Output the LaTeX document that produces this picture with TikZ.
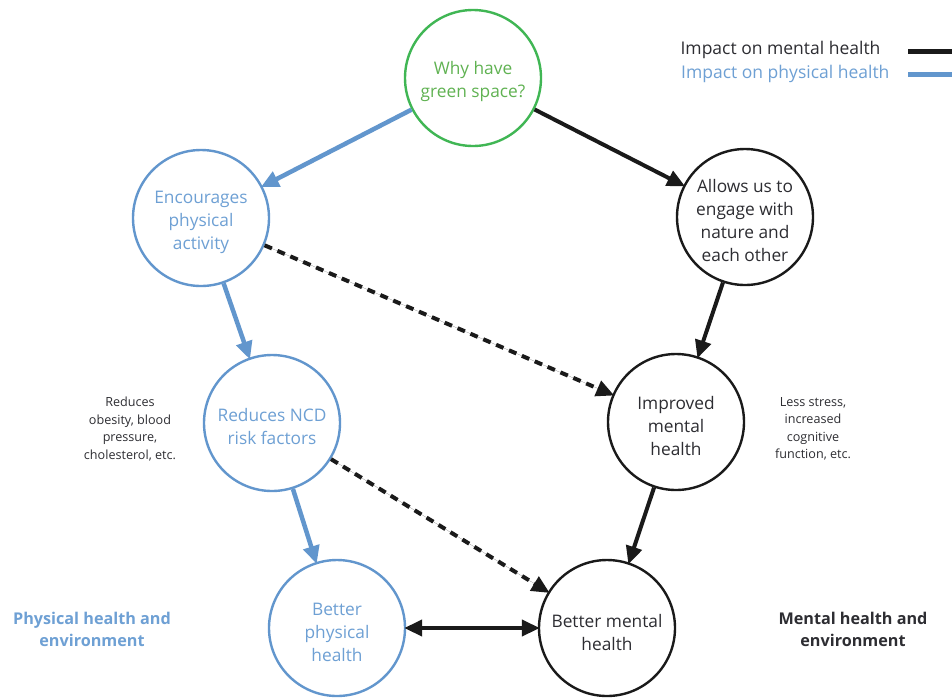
\documentclass[tikz,border=0pt]{standalone}
\usepackage{fontspec}
\setmainfont{Open Sans}
\usetikzlibrary{arrows.meta}
\definecolor{phyblue}{RGB}{98,150,205}
\definecolor{txtblue}{RGB}{110,160,212}
\definecolor{grn}{RGB}{64,182,84}
\definecolor{txtgrn}{RGB}{96,178,82}
\definecolor{blk}{RGB}{26,26,26}
\definecolor{txtgray}{RGB}{45,45,50}
\begin{document}
\begin{tikzpicture}[x=1pt,y=-1pt,
  circ/.style={circle,minimum size=136pt,inner sep=0pt,line width=2.4pt},
  ctext/.style={align=center,inner sep=0pt,yshift=-4pt,font=\fontsize{17.3}{23}\selectfont},
  physc/.style={circ,draw=phyblue},
  mentc/.style={circ,draw=blk},
  greenc/.style={circ,draw=grn},
  tip/.style={-{Triangle[length=18pt,width=16pt]}},
  parr/.style={tip,draw=phyblue,fill=phyblue,line width=4.5pt,shorten >=-2pt},
  marr/.style={tip,draw=blk,fill=blk,line width=4pt,shorten >=-2pt},
  darr/.style={marr,dash pattern=on 8pt off 6pt},
  note/.style={align=center,text=txtgray,font=\fontsize{12.6}{17.5}\selectfont},
  side/.style={align=center,font=\bfseries\fontsize{16.2}{22}\selectfont}
]
\useasboundingbox (0,0) rectangle (952,697);
\fill[white] (0,0) rectangle (952,697);

\node[greenc,label={[ctext,text=txtgrn]center:Why have\\green space?}] (why) at (473,78) {};
\node[physc,label={[ctext,text=txtblue]center:Encourages\\physical\\activity}] (enc) at (201,218) {};
\node[mentc,label={[ctext,text=txtgray]center:Allows us to\\engage with\\nature and\\each other}] (allow) at (745,217) {};
\node[physc,label={[ctext,text=txtblue]center:Reduces NCD\\risk factors}] (ncd) at (272,423) {};
\node[mentc,label={[ctext,text=txtgray]center:Improved\\mental\\health}] (impr) at (676,422) {};
\node[physc,label={[ctext,text=txtblue]center:Better\\physical\\health}] (bph) at (337,628) {};
\node[mentc,label={[ctext,text=txtgray]center:Better mental\\health}] (bmh) at (607,628) {};

\draw[parr] (why) -- (enc);
\draw[marr] (why) -- (allow);
\draw[parr] (enc) -- (ncd);
\draw[parr] (ncd) -- (bph);
\draw[marr] (allow) -- (impr);
\draw[marr] (impr) -- (bmh);
\draw[darr] (enc) -- (impr);
\draw[darr] (ncd) -- (bmh);
\draw[marr,{Triangle[length=18pt,width=16pt]}-{Triangle[length=18pt,width=16pt]},shorten <=-2pt] (bph) -- (bmh);

\node[note] (n1) at (130,429) {Reduces\\obesity, blood\\pressure,\\cholesterol, etc.};
\node[note] (n2) at (813,429) {Less stress,\\increased\\cognitive\\function, etc.};

\node[side,text=txtblue] (s1) at (92,629) {Physical health and\\environment};
\node[side,text=txtgray] (s2) at (853,629) {Mental health and\\environment};

\node[anchor=east,text=txtgray,font=\fontsize{17.5}{20}\selectfont] (l1) at (884,50) {Impact on mental health};
\node[anchor=east,text=txtblue,font=\fontsize{17.5}{20}\selectfont] (l2) at (893,74) {Impact on physical health};
\coordinate (a1) at (908,51);
\coordinate (b1) at (952,51);
\coordinate (a2) at (908,74);
\coordinate (b2) at (952,74);
\draw[blk,line width=5pt] (a1) -- (b1);
\draw[phyblue,line width=5pt] (a2) -- (b2);
\end{tikzpicture}
\end{document}
